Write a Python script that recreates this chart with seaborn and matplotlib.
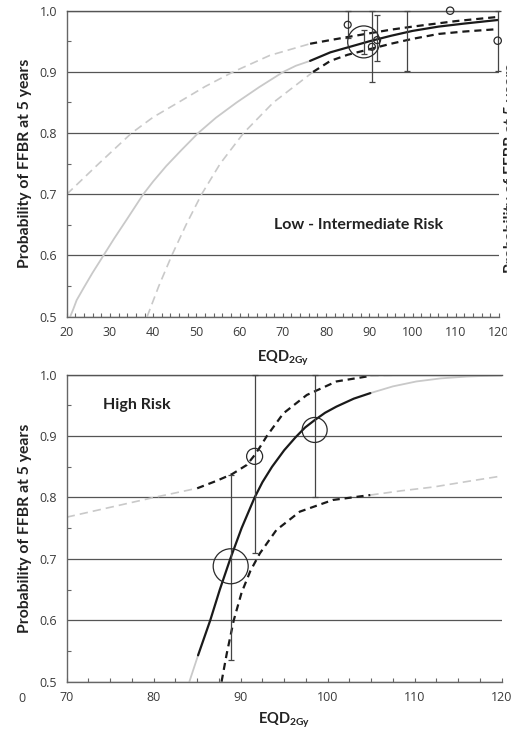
import matplotlib.pyplot as plt
import matplotlib.patches as mpatches
from matplotlib.ticker import MultipleLocator
import seaborn as sns
import numpy as np

# Usefull variables
black = "#1a1a1a"
light_grey = "#c9c9c9"
grid_grey = "#555555"

# --- Low - Intermediate risk (top panel) ---
low_fit_ext_x = [20.8, 21.5, 22.3, 24.0, 26.0, 28.5, 31.0, 34.0, 37.7, 40.0, 43.0, 46.5,
                 50.4, 54.5, 59.3, 64.5, 70.1, 73.0, 76.3]
low_fit_ext_y = [0.500, 0.512, 0.527, 0.548, 0.572, 0.600, 0.628, 0.660, 0.700, 0.721, 0.746, 0.772,
                 0.800, 0.825, 0.850, 0.875, 0.900, 0.910, 0.918]
low_fit_x = [76.3, 81.0, 85.0, 90.0, 95.0, 100.0, 106.0, 112.0, 120.0]
low_fit_y = [0.918, 0.932, 0.940, 0.950, 0.959, 0.967, 0.974, 0.979, 0.985]

low_upper_ext_x = [20.0, 23.7, 27.4, 31.2, 35.0, 40.0, 45.8, 52.0, 58.5, 67.0, 76.3]
low_upper_ext_y = [0.700, 0.725, 0.750, 0.775, 0.800, 0.826, 0.850, 0.876, 0.900, 0.927, 0.946]
low_upper_x = [76.3, 81.0, 85.0, 90.0, 95.0, 100.0, 110.0, 120.0]
low_upper_y = [0.946, 0.952, 0.957, 0.963, 0.969, 0.974, 0.983, 0.990]

low_lower_ext_x = [38.6, 41.3, 44.3, 47.6, 51.2, 55.5, 60.9, 67.8, 77.0]
low_lower_ext_y = [0.500, 0.550, 0.600, 0.650, 0.700, 0.750, 0.800, 0.850, 0.900]
low_lower_x = [77.0, 81.0, 85.0, 90.0, 95.0, 100.0, 106.0, 112.0, 120.0]
low_lower_y = [0.900, 0.918, 0.928, 0.937, 0.946, 0.954, 0.962, 0.966, 0.970]

low_pts_x = [85.0, 88.7, 90.6, 91.8, 108.7, 119.7]
low_pts_y = [0.977, 0.949, 0.941, 0.952, 1.000, 0.951]
low_pts_s = [25, 530, 25, 25, 28, 28]

low_err_x = [85.0, 88.7, 90.6, 91.8, 98.7, 119.7]
low_err_lo = [0.955, 0.930, 0.883, 0.917, 0.902, 0.902]
low_err_hi = [1.000, 0.968, 1.000, 0.993, 1.000, 1.000]

# --- High risk (bottom panel) ---
high_fit_ext_x = [84.1, 85.1]
high_fit_ext_y = [0.500, 0.543]
high_fit_x = [85.1, 86.5, 87.6, 88.8, 90.1, 91.6, 92.5, 93.6, 95.0, 96.3, 97.4, 98.5, 99.7,
              101.0, 103.0, 104.9]
high_fit_y = [0.543, 0.600, 0.650, 0.700, 0.750, 0.800, 0.825, 0.850, 0.877, 0.898, 0.914, 0.926,
              0.938, 0.948, 0.961, 0.970]
high_fit_ext2_x = [104.9, 107.5, 110.2, 113.0, 116.0, 120.0]
high_fit_ext2_y = [0.970, 0.981, 0.989, 0.994, 0.997, 0.999]

high_upper_ext_x = [70.0, 75.0, 80.0, 85.0]
high_upper_ext_y = [0.768, 0.784, 0.800, 0.815]
high_upper_x = [85.0, 87.2, 89.0, 90.7, 91.6, 92.3, 93.0, 94.9, 97.6, 101.0, 104.9]
high_upper_y = [0.815, 0.827, 0.838, 0.853, 0.869, 0.884, 0.900, 0.937, 0.967, 0.989, 0.998]
high_upper_ext2_x = [104.9, 110.0, 115.0, 120.0]
high_upper_ext2_y = [0.998, 1.000, 1.000, 1.000]

high_lower_x = [87.8, 88.4, 89.2, 90.1, 91.1, 92.2, 94.1, 96.8, 100.6, 104.9]
high_lower_y = [0.500, 0.546, 0.600, 0.645, 0.680, 0.709, 0.747, 0.777, 0.796, 0.804]
high_lower_ext_x = [104.9, 108.5, 112.1, 116.0, 120.0]
high_lower_ext_y = [0.804, 0.811, 0.817, 0.826, 0.835]

high_pts_x = [88.85, 91.6, 98.5]
high_pts_y = [0.688, 0.867, 0.910]
high_pts_s = [635, 133, 324]

high_err_x = [88.85, 91.6, 98.5]
high_err_lo = [0.536, 0.709, 0.801]
high_err_hi = [0.837, 1.000, 1.000]

y_ticks = [0.5, 0.6, 0.7, 0.8, 0.9, 1.0]
ylabel = "Probability of FFBR at 5 years"
xlabel = r"$\mathbf{EQD_{2Gy}}$"

sns.set_style("white")
plt.rcParams["font.family"] = ["Open Sans", "DejaVu Sans"]
plt.rcParams["mathtext.fontset"] = "custom"
plt.rcParams["mathtext.bf"] = "Lato:bold"
plt.rcParams["mathtext.rm"] = "Lato"

dash_black = (0, (3.2, 2.2))
dash_grey = (0, (5, 3))


def curve(ax, x, y, color, lw, ls="-"):
    sns.lineplot(x=x, y=y, ax=ax, color=color, linewidth=lw, linestyle=ls,
                 estimator=None, sort=False, errorbar=None)


def style_axis(ax, xlim, xticks, xminor):
    ax.set_xlim(*xlim)
    ax.set_ylim(0.5, 1.0)
    ax.set_xticks(xticks)
    ax.set_xticklabels([str(t) for t in xticks])
    ax.xaxis.set_minor_locator(MultipleLocator(xminor))
    ax.set_yticks(y_ticks)
    ax.set_yticklabels([f"{t:.1f}" for t in y_ticks])
    ax.yaxis.set_minor_locator(MultipleLocator(0.05))
    ax.grid(axis="y", which="major", color=grid_grey, linewidth=0.9)
    ax.grid(axis="x", visible=False)
    ax.set_axisbelow(True)
    for side in ["left", "bottom", "top"]:
        ax.spines[side].set_visible(True)
        ax.spines[side].set_color("#666666")
        ax.spines[side].set_linewidth(1.0)
    ax.spines["top"].set_color(grid_grey)
    ax.spines["right"].set_visible(False)
    ax.tick_params(axis="x", which="both", direction="in", length=3, width=0.8,
                   color="#666666", labelsize=9, labelcolor="#3a3a3a", pad=7, bottom=True)
    ax.tick_params(axis="y", which="major", length=0, labelsize=9,
                   labelcolor="#3a3a3a", pad=7)
    ax.tick_params(axis="y", which="minor", direction="in", length=3, width=0.8,
                   color="#666666", left=True)
    ax.set_ylabel(ylabel, fontfamily="Lato", fontweight="bold", fontsize=11.3, color="#222222")
    ax.yaxis.set_label_coords(-0.08, 0.5)
    ax.set_xlabel(xlabel, fontsize=10.5, color="#222222")


def points(ax, x, y, s, err_x, lo, hi):
    lo = np.array(lo)
    hi = np.array(hi)
    ax.errorbar(err_x, (lo + hi) / 2, yerr=(hi - lo) / 2, fmt="none", ecolor="#444444",
                elinewidth=0.9, capsize=2, capthick=0.9, clip_on=False, zorder=4)
    sns.scatterplot(x=x, y=y, s=np.array(s), ax=ax, marker="o", facecolors="none",
                    edgecolors="#2a2a2a", linewidths=0.9, clip_on=False, zorder=5)


fig = plt.figure(figsize=(5.21, 7.34), dpi=100)
W, H = 521, 734
ax1 = fig.add_axes([66.7 / W, 1 - 316.7 / H, (499 - 66.7) / W, (316.7 - 10.7) / H])
ax2 = fig.add_axes([66.7 / W, 1 - 681.7 / H, (501.7 - 66.7) / W, (681.7 - 374.7) / H])

# top panel
curve(ax1, low_fit_ext_x, low_fit_ext_y, light_grey, 1.3)
curve(ax1, low_upper_ext_x, low_upper_ext_y, light_grey, 1.2, dash_grey)
curve(ax1, low_lower_ext_x, low_lower_ext_y, light_grey, 1.2, dash_grey)
curve(ax1, low_fit_x, low_fit_y, black, 1.6)
curve(ax1, low_upper_x, low_upper_y, black, 1.6, dash_black)
curve(ax1, low_lower_x, low_lower_y, black, 1.6, dash_black)
points(ax1, low_pts_x, low_pts_y, low_pts_s, low_err_x, low_err_lo, low_err_hi)
style_axis(ax1, (20, 120), list(range(20, 121, 10)), 2)
ax1.xaxis.set_label_coords(0.5, -0.105)
ax1.text(87.5, 0.65, "Low - Intermediate Risk", ha="center", va="center",
         fontfamily="Lato", fontweight="bold", fontsize=11.5, color="#222222")

# bottom panel
curve(ax2, high_fit_ext_x, high_fit_ext_y, light_grey, 1.3)
curve(ax2, high_fit_ext2_x, high_fit_ext2_y, light_grey, 1.3)
curve(ax2, high_upper_ext_x, high_upper_ext_y, light_grey, 1.2, dash_grey)
curve(ax2, high_upper_ext2_x, high_upper_ext2_y, light_grey, 1.2, dash_grey)
curve(ax2, high_lower_ext_x, high_lower_ext_y, light_grey, 1.2, dash_grey)
curve(ax2, high_fit_x, high_fit_y, black, 1.6)
curve(ax2, high_upper_x, high_upper_y, black, 1.6, dash_black)
curve(ax2, high_lower_x, high_lower_y, black, 1.6, dash_black)
points(ax2, high_pts_x, high_pts_y, high_pts_s, high_err_x, high_err_lo, high_err_hi)
style_axis(ax2, (70, 120), list(range(70, 121, 10)), 2.5)
ax2.xaxis.set_label_coords(0.5, -0.095)
ax2.text(78.1, 0.951, "High Risk", ha="center", va="center",
         fontfamily="Lato", fontweight="bold", fontsize=11.5, color="#222222")

# leftovers of the neighbouring panels in the original figure
fig.text(21.5 / W, 1 - 698 / H, "0", ha="center", va="center", fontsize=9, color="#3a3a3a")
fig.text(504 / W, 1 - 273 / H, ylabel, rotation=90, rotation_mode="anchor", ha="left", va="top",
         fontfamily="Lato", fontweight="bold", fontsize=11.3, color="#222222")
fig.add_artist(mpatches.Rectangle((506.5 / W, 1 - 363 / H), (W - 506.5) / W, 363 / H,
                                  transform=fig.transFigure, color="white", zorder=10))

fig.savefig("out.png", dpi=100)
